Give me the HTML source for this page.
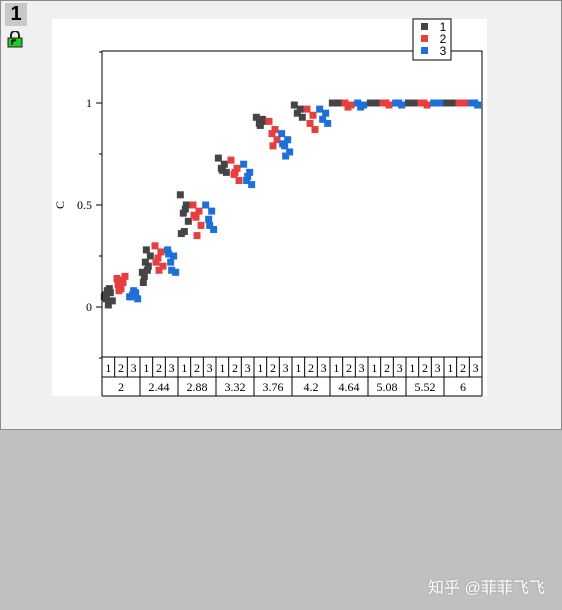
<!DOCTYPE html>
<html><head><meta charset="utf-8"><style>
body{margin:0;width:562px;height:610px;overflow:hidden;background:#c0c0c0;font-family:"Liberation Serif",serif}
#win{position:absolute;left:0;top:0;width:560px;height:428px;background:#f0f0f0;border:1px solid #8a8a8a}
#tab{position:absolute;left:5px;top:3px;width:22px;height:23px;background:#c8c8c8;font:bold 20px "Liberation Sans",sans-serif;text-align:center;line-height:23px}
#page{position:absolute;left:52px;top:19px;width:435px;height:377px;background:#fff}
#wm{position:absolute;left:428px;top:574px;color:#fff;font:16px "Liberation Sans","Noto Sans CJK SC",sans-serif;text-shadow:0 0 2px #999}
</style></head><body>
<div id="win"></div>
<div id="tab">1</div>
<svg style="position:absolute;left:7px;top:31px" width="16" height="17"><path d="M4 7V4a4 4 0 0 1 8 0v3" fill="none" stroke="#222" stroke-width="2"/><rect x="1" y="7" width="14" height="9" fill="#2c2" stroke="#222"/><path d="M5 9v5M5 9h4l-4 2" stroke="#111" stroke-width="1.5" fill="none"/></svg>
<div id="page"></div>
<svg id="chart" style="position:absolute;left:0;top:0" width="562" height="610"></svg>
<div id="wm">知乎 @菲菲飞飞</div>
<script>
const groups=["2","2.44","2.88","3.32","3.76","4.2","4.64","5.08","5.52","6"];
const subs=["1","2","3"];
const yTicks=[0,0.5,1];
const s1=[[0.05,0.07,0.08,0.03,0.01,0.06,0.09,0.04],[0.17,0.2,0.22,0.25,0.28,0.12,0.18,0.15],[0.55,0.5,0.46,0.42,0.37,0.36,0.48],[0.73,0.7,0.68,0.66,0.67],[0.93,0.92,0.9,0.91,0.89],[0.99,0.97,0.95,0.93],[1,1,1],[1,1,1],[1,1,1],[1,1,1]];
const s2=[[0.14,0.12,0.1,0.15,0.09,0.11,0.13,0.08],[0.3,0.27,0.24,0.2,0.18,0.22],[0.5,0.47,0.44,0.4,0.35,0.45],[0.72,0.68,0.65,0.62,0.66],[0.91,0.87,0.85,0.82,0.79],[0.97,0.94,0.9,0.87],[1,0.99,0.98],[1,0.99,1],[1,0.99,1],[1,1,1]];
const s3=[[0.05,0.07,0.06,0.04,0.08,0.05],[0.28,0.25,0.22,0.17,0.18,0.26],[0.5,0.47,0.43,0.38,0.4],[0.7,0.66,0.62,0.6,0.64],[0.85,0.82,0.79,0.76,0.74,0.8],[0.97,0.95,0.92,0.9],[1,0.99,0.98],[1,0.99,1],[1,1,1],[1,0.99,1]];
const series=[s1,s2,s3];
const colors=["#454545","#e5403f","#1e6fd8"];
const L=102,R=482,T=51,B=357;
const y=v=>307-v*204;
const gw=(R-L)/groups.length, sw=gw/3;
const x=(g,s)=>L+g*gw+(s+0.5)*sw;
const jit=[-4,2,-1,4,0,-3,1,-2];
const svg=document.getElementById('chart');
const NS="http://www.w3.org/2000/svg";
function mk(t,a,p){const e=document.createElementNS(NS,t);for(const k in a)e.setAttribute(k,a[k]);(p||svg).appendChild(e);return e;}
series.forEach((ser,si)=>{ser.forEach((vals,gi)=>{vals.forEach((v,k)=>{
 const r=mk('rect',{x:x(gi,si)+jit[k%8]-3.5,y:y(v)-3.5,width:7,height:7,fill:colors[si]});
 
 
});});});
const f=mk('rect',{x:L,y:T,width:R-L,height:B-T,fill:'none',stroke:'#000','stroke-width':1});

[-0.25,0.25,0.75,1.25].forEach(v=>mk('line',{x1:L-3,x2:L,y1:y(v),y2:y(v),stroke:'#000'}));
yTicks.forEach(v=>{mk('line',{x1:L-6,x2:L,y1:y(v),y2:y(v),stroke:'#000'});
 const t=mk('text',{x:L-10,y:y(v)+4,'text-anchor':'end','font-size':12});t.textContent=v;
 });
const yt=mk('text',{x:64,y:205,'text-anchor':'middle','font-size':12,transform:'rotate(-90 64 205)'});yt.textContent='C';

mk('line',{x1:L,x2:R,y1:377,y2:377,stroke:'#000'});
mk('line',{x1:L,x2:R,y1:396,y2:396,stroke:'#000'});
mk('line',{x1:L,x2:L,y1:B,y2:396,stroke:'#000'});
groups.forEach((g,gi)=>{
 mk('line',{x1:L+(gi+1)*gw,x2:L+(gi+1)*gw,y1:B,y2:396,stroke:'#000'});
 subs.forEach((s,si)=>{ if(si>0)mk('line',{x1:L+gi*gw+si*sw,x2:L+gi*gw+si*sw,y1:B,y2:377,stroke:'#000'});
  const t=mk('text',{x:x(gi,si),y:372,'text-anchor':'middle','font-size':12});t.textContent=s;
  });
 const t=mk('text',{x:L+(gi+0.5)*gw,y:391,'text-anchor':'middle','font-size':12});t.textContent=g;
 
});
const lg=mk('rect',{x:413,y:19,width:38,height:41,fill:'#fff',stroke:'#000'});

subs.forEach((s,i)=>{mk('rect',{x:421,y:23+i*12,width:7,height:7,fill:colors[i]});
 const t=mk('text',{x:443,y:31+i*12,'text-anchor':'middle','font-size':12,'font-family':'Liberation Sans'});t.textContent=s;
 });
</script>
</body></html>
